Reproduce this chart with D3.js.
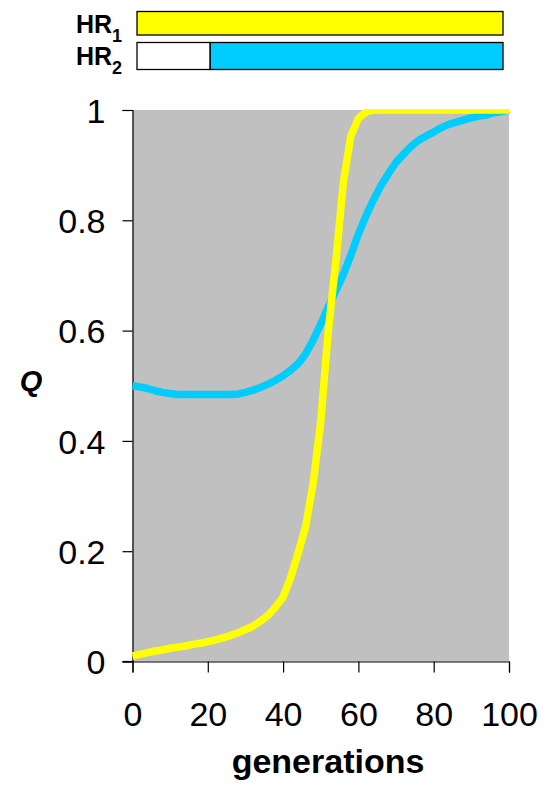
<!DOCTYPE html>
<html>
<head>
<meta charset="utf-8">
<script src="https://cdnjs.cloudflare.com/ajax/libs/d3/7.8.5/d3.min.js"></script>
<style>
  body { margin: 0; background: #fff; }
  text { font-family: "Liberation Sans", Arial, sans-serif; fill: #000; }
</style>
</head>
<body>
<div id="chart"></div>
<script>
// generations sampled every 2
var generations = [0,2,4,6,8,10,12,14,16,18,
                   20,22,24,26,28,30,32,34,36,38,
                   40,42,44,46,48,50,52,54,56,58,
                   60,62,64,66,68,70,72,74,76,78,
                   80,82,84,86,88,90,92,94,96,98,100];

// Q for HR1 (yellow)
var qHR1 = [0.010,0.013,0.016,0.019,0.021,0.024,0.026,0.028,0.031,0.033,
            0.036,0.039,0.043,0.047,0.052,0.058,0.064,0.073,0.084,0.099,
            0.117,0.152,0.197,0.245,0.324,0.435,0.600,0.725,0.869,0.953,
            0.985,0.996,1,1,1,1,1,1,1,1,
            1,1,1,1,1,1,1,1,1,1,1];

// Q for HR2 (blue)
var qHR2 = [0.500,0.498,0.495,0.491,0.488,0.486,0.484,0.484,0.484,0.484,
            0.484,0.484,0.484,0.484,0.485,0.488,0.492,0.497,0.503,0.510,
            0.518,0.528,0.540,0.558,0.583,0.612,0.643,0.672,0.702,0.737,
            0.775,0.808,0.837,0.863,0.885,0.905,0.920,0.934,0.945,0.953,
            0.960,0.968,0.974,0.978,0.982,0.986,0.989,0.991,0.995,0.997,1.000];

var xTicks = [0,20,40,60,80,100];
var yTicks = [0,0.2,0.4,0.6,0.8,1];
var yTickLabels = ["0","0.2","0.4","0.6","0.8","1"];

// timeline bars above the plot: [start, end] in generations
var barHR1 = [{from:0, to:100, fill:"#FFFF00"}];
var barHR2 = [{from:0, to:20, fill:"#FFFFFF"}, {from:20, to:100, fill:"#00CCFF"}];

var w = 547, h = 785;

var svg = d3.select("#chart").append("svg")
    .attr("width", w)
    .attr("height", h);

var x = d3.scaleLinear().domain([0,100]).range([132.5,509]);
var y = d3.scaleLinear().domain([0,1]).range([661.5,110]);
var barX = d3.scaleLinear().domain([0,100]).range([137,503]);

// plot background
svg.append("rect")
    .attr("x", x(0))
    .attr("y", y(1))
    .attr("width", x(100) - x(0))
    .attr("height", y(0) - y(1))
    .style("fill", "#C0C0C0");

// y axis
var yAxis = svg.append("g")
    .attr("transform", "translate(" + x(0) + ",0)")
    .call(d3.axisLeft(y).tickValues(yTicks).tickSize(10).tickPadding(17)
        .tickFormat(function(d, i){ return yTickLabels[i]; }));
yAxis.select(".domain").attr("stroke", "#000").attr("stroke-width", 1.2);
yAxis.selectAll(".tick line").attr("stroke", "#000").attr("stroke-width", 1.2);
yAxis.selectAll(".tick text")
    .style("font-size", "34px")
    .style("font-family", "Liberation Sans, Arial, sans-serif")
    .attr("dy", "0.36em");

// x axis
var xAxis = svg.append("g")
    .attr("transform", "translate(0," + y(0) + ")")
    .call(d3.axisBottom(x).tickValues(xTicks).tickSize(11).tickPadding(29));
xAxis.select(".domain").attr("stroke", "#000").attr("stroke-width", 1.2);
xAxis.selectAll(".tick line").attr("stroke", "#000").attr("stroke-width", 1.2);
xAxis.selectAll(".tick text")
    .style("font-size", "34px")
    .style("font-family", "Liberation Sans, Arial, sans-serif");

// extend the x axis line left to meet the y tick at 0
svg.append("line")
    .attr("x1", x(0) - 10).attr("x2", x(0))
    .attr("y1", y(0)).attr("y2", y(0))
    .attr("stroke", "#000").attr("stroke-width", 1.2);

// clip lines at the top of the plot
svg.append("clipPath").attr("id", "clip")
    .append("rect")
    .attr("x", 0).attr("y", y(1) - 1)
    .attr("width", w).attr("height", h);

var line = d3.line()
    .x(function(d){ return x(d[0]); })
    .y(function(d){ return y(d[1]); });

var series = [
    {values: qHR2, color: "#00CCFF"},
    {values: qHR1, color: "#FFFF00"}
];

svg.append("g").attr("clip-path", "url(#clip)")
    .selectAll("path")
    .data(series)
    .enter()
    .append("path")
    .attr("d", function(s){
        return line(generations.map(function(g, i){ return [g, s.values[i]]; }));
    })
    .style("fill", "none")
    .style("stroke", function(s){ return s.color; })
    .style("stroke-width", 7.5)
    .style("stroke-linejoin", "round");

// timeline bars
function drawBar(parts, top, height){
    svg.append("g").selectAll("rect")
        .data(parts)
        .enter()
        .append("rect")
        .attr("x", function(d){ return barX(d.from); })
        .attr("y", top)
        .attr("width", function(d){ return barX(d.to) - barX(d.from); })
        .attr("height", height)
        .style("fill", function(d){ return d.fill; })
        .style("stroke", "#000")
        .style("stroke-width", 1.3);
}
drawBar(barHR1, 11.5, 23.5);
drawBar(barHR2, 42.5, 27);

// bar labels
function barLabel(sub, baseline){
    var t = svg.append("text")
        .attr("x", 76)
        .attr("y", baseline)
        .style("font-size", "25px")
        .style("font-weight", "bold");
    t.append("tspan").text("HR");
    t.append("tspan").attr("dy", 9).style("font-size", "18px").text(sub);
}
barLabel("1", 33);
barLabel("2", 65);

// axis titles
svg.append("text")
    .attr("x", 31)
    .attr("y", 391)
    .attr("text-anchor", "middle")
    .style("font-size", "29px")
    .style("font-weight", "bold")
    .style("font-style", "italic")
    .text("Q");

svg.append("text")
    .attr("x", 328)
    .attr("y", 773)
    .attr("text-anchor", "middle")
    .style("font-size", "34px")
    .style("font-weight", "bold")
    .text("generations");
</script>
</body>
</html>
